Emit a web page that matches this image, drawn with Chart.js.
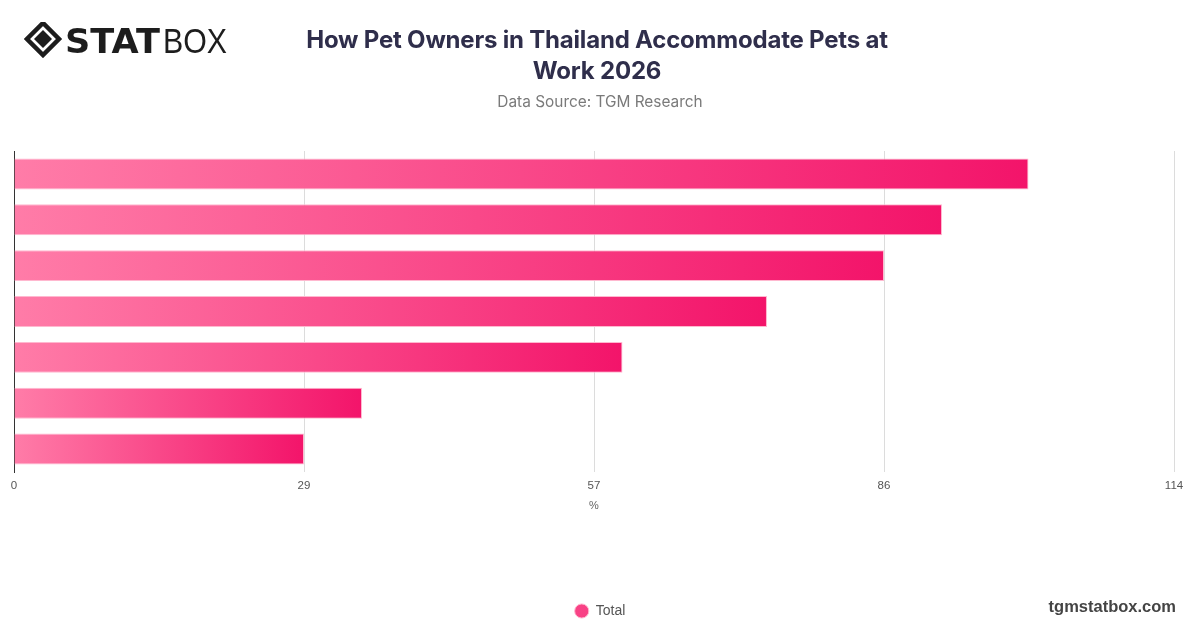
<!DOCTYPE html>
<html>
<head>
<meta charset="utf-8">
<script src="https://cdn.jsdelivr.net/npm/chart.js@4.4.1/dist/chart.umd.min.js"></script>
<style>
  html, body { margin: 0; padding: 0; background: #fff; }
  #wrap { position: relative; width: 1200px; height: 628px; overflow: hidden; }
  #chart { position: absolute; left: 0; top: 0; }
  #logo { position: absolute; left: 24px; top: 22px; }
  #title {
    position: absolute; left: 0; top: 24px; width: 1194px; text-align: center;
    font-family: Inter, "Noto Sans", sans-serif; font-weight: 700; font-size: 24px;
    line-height: 31px; color: #2f2e4b; letter-spacing: -0.2px;
  }
  #source {
    position: absolute; left: 0; top: 92px; width: 1200px; text-align: center;
    font-family: Inter, "Noto Sans", sans-serif; font-size: 15.4px; color: #7a7a7a;
  }
  #site {
    position: absolute; right: 24px; top: 597px;
    font-family: "Liberation Sans", Arial, sans-serif; font-weight: 700; font-size: 16.5px; color: #444;
  }
</style>
</head>
<body>
<div id="wrap">
  <canvas id="chart" width="1200" height="628"></canvas>
  <svg id="logo" width="210" height="36" viewBox="0 0 210 36">
    <g transform="translate(19,17)">
      <path d="M0 -16 L16 0 L0 16 L-16 0 Z" fill="none" stroke="#1d1d1d" stroke-width="4.5"/>
      <path d="M0 -9 L9 0 L0 9 L-9 0 Z" fill="#1d1d1d"/>
    </g>
    <text x="41" y="31" font-family="DejaVu Sans" font-weight="900" font-size="34" fill="#1d1d1d"
          textLength="95" lengthAdjust="spacingAndGlyphs">STAT</text>
    <text x="139" y="31" font-family="Liberation Sans" font-weight="300" font-size="35" fill="#1d1d1d"
          textLength="64" lengthAdjust="spacingAndGlyphs">BOX</text>
  </svg>
  <div id="title">How Pet Owners in Thailand Accommodate Pets at<br>Work 2026</div>
  <div id="source">Data Source: TGM Research</div>
  <div id="site">tgmstatbox.com</div>
</div>
<script>
// categories are not printed on the picture, so they are kept generic
const categories = ["Option 1", "Option 2", "Option 3", "Option 4", "Option 5", "Option 6", "Option 7"];
const totalValues = [99.7, 91.2, 85.5, 74.0, 59.8, 34.2, 28.5];
const tickValues = [0, 28.5, 57, 85.5, 114];

const ctx = document.getElementById("chart").getContext("2d");

// gradient runs from the bar base to the end of each bar
function barGradient(c) {
	const chart = c.chart;
	if (!chart.chartArea || c.dataIndex === undefined || !chart.scales.x) {
		return "#fa4a84";
	}
	const x = chart.scales.x;
	const x0 = x.getPixelForValue(0);
	const x1 = x.getPixelForValue(totalValues[c.dataIndex]);
	const g = chart.ctx.createLinearGradient(x0, 0, x1, 0);
	g.addColorStop(0, "#ff7ca8");
	g.addColorStop(1, "#f3146a");
	return g;
}

// nudge the legend so it sits centred on the page, not on the padded box
const legendShift = {
	id: "legendShift",
	afterLayout(chart) {
		chart.legend.left += 10;
		chart.legend.right += 10;
	},
};

new Chart(ctx, {
	type: "bar",
	data: {
		labels: categories,
		datasets: [
			{
				label: "Total",
				data: totalValues,
				backgroundColor: barGradient,
				borderColor: "#ffb8cf",
				borderWidth: 1,
				categoryPercentage: 0.75,
				barPercentage: 0.9,
			},
		],
	},
	options: {
		indexAxis: "y",
		responsive: false,
		animation: false,
		layout: {
			padding: { top: 151, left: 6, right: 26, bottom: 0 },
		},
		scales: {
			x: {
				min: 0,
				max: 114,
				afterBuildTicks: (axis) => {
					axis.ticks = tickValues.map((v) => ({ value: v }));
				},
				ticks: {
					callback: (v) => Math.round(v),
					color: "#555",
					font: { family: "Liberation Sans", size: 11.5 },
					padding: 7,
				},
				grid: { color: "#dcdcdc", drawTicks: false },
				border: { display: false },
				title: {
					display: true,
					text: "%",
					color: "#666",
					font: { family: "Liberation Sans", size: 11 },
					padding: { top: 0, bottom: 83 },
				},
			},
			y: {
				ticks: { display: false },
				grid: { display: false },
				border: { display: true, color: "#333", width: 1 },
			},
		},
		plugins: {
			legend: {
				position: "bottom",
				labels: {
					usePointStyle: true,
					pointStyle: "circle",
					boxWidth: 24,
					boxHeight: 10,
					color: "#555",
					font: { family: "Liberation Sans", size: 14 },
					padding: 8,
				},
			},
			tooltip: { enabled: false },
		},
	},
	plugins: [legendShift],
});
</script>
</body>
</html>
